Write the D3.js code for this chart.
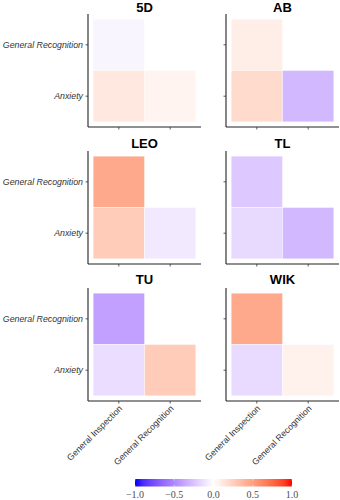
<!DOCTYPE html>
<html>
<head>
<meta charset="utf-8">
<script src="https://cdn.jsdelivr.net/npm/d3@7"></script>
<style>
  html, body { margin: 0; padding: 0; background: #fff; }
  svg { display: block; }
</style>
</head>
<body>
<div id="chart"></div>
<script>
// panels, categories and correlation values
const panels = ["5D", "AB", "LEO", "TL", "TU", "WIK"];
const xCats = ["General Inspection", "General Recognition"];
const yCats = ["General Recognition", "Anxiety"];
// cell order: [GR x GI, Anxiety x GI, Anxiety x GR]
const cellPairs = [
  ["General Inspection", "General Recognition"],
  ["General Inspection", "Anxiety"],
  ["General Recognition", "Anxiety"]
];
const values5D  = [-0.04, 0.12, 0.06];
const valuesAB  = [0.09, 0.19, -0.30];
const valuesLEO = [0.45, 0.27, -0.09];
const valuesTL  = [-0.23, -0.16, -0.30];
const valuesTU  = [-0.40, -0.14, 0.27];
const valuesWIK = [0.45, -0.15, 0.07];
const panelValues = [values5D, valuesAB, valuesLEO, valuesTL, valuesTU, valuesWIK];
const legendTicks = [-1, -0.5, 0, 0.5, 1];

const width = 340, height = 500;
const panelW = 113, panelH = 113;
const colX = [88, 226];
const rowY = [14, 151, 288];

const svg = d3.select("#chart").append("svg")
  .attr("width", width).attr("height", height)
  .attr("viewBox", [0, 0, width, height]);

const color = d3.scaleLinear()
  .domain([-1, 0, 1])
  .range(["#0000ff", "#ffffff", "#ff0000"])
  .interpolate(d3.interpolateLab);

const x = d3.scaleBand().domain(xCats).range([0, panelW]).paddingInner(0).paddingOuter(0.1);
const y = d3.scaleBand().domain(yCats).range([0, panelH]).paddingInner(0).paddingOuter(0.1);

panels.forEach((name, i) => {
  const col = i % 2, row = Math.floor(i / 2);
  const g = svg.append("g").attr("transform", `translate(${colX[col]},${rowY[row]})`);
  const cells = cellPairs.map(([cx, cy], k) => ({ cx, cy, v: panelValues[i][k] }));

  g.selectAll("rect.cell").data(cells).join("rect")
    .attr("class", "cell")
    .attr("x", d => x(d.cx))
    .attr("y", d => y(d.cy))
    .attr("width", x.bandwidth())
    .attr("height", y.bandwidth())
    .attr("fill", d => color(d.v))
    .attr("stroke", "#fff")
    .attr("stroke-width", 0.4);

  // title
  g.append("text")
    .attr("x", panelW / 2)
    .attr("y", -2.5 - row * 0.8)
    .attr("text-anchor", "middle")
    .style("font", "bold 13px 'Liberation Sans', Arial, sans-serif")
    .attr("fill", "#000")
    .text(name);

  // y axis
  const yAxis = g.append("g")
    .call(d3.axisLeft(y).tickSize(2.5).tickPadding(2.5).tickSizeOuter(0)
      .tickFormat(col === 0 ? (d => d) : () => ""));
  yAxis.select(".domain").attr("stroke", "#222").attr("stroke-width", 1.1)
    .attr("d", `M0,0V${panelH}`);
  yAxis.selectAll(".tick line").attr("stroke", "#333").attr("stroke-width", 0.8);
  yAxis.selectAll(".tick text")
    .style("font", "italic 8.8px 'Liberation Sans', Arial, sans-serif")
    .attr("fill", "#333");

  // x axis
  const xAxis = g.append("g").attr("transform", `translate(0,${panelH})`)
    .call(d3.axisBottom(x).tickSize(2.5).tickSizeOuter(0)
      .tickFormat(row === 2 ? (d => d) : () => ""));
  xAxis.select(".domain").attr("stroke", "#222").attr("stroke-width", 1.1)
    .attr("d", `M0,0H${panelW}`);
  xAxis.selectAll(".tick line").attr("stroke", "#333").attr("stroke-width", 0.8);
  xAxis.selectAll(".tick text")
    .style("font", "8.8px 'Liberation Sans', Arial, sans-serif")
    .attr("fill", "#333")
    .attr("text-anchor", "end")
    .attr("dy", null)
    .attr("y", 0)
    .attr("transform", "translate(4,8) rotate(-45)");
});

// legend colourbar
const lx = d3.scaleLinear().domain([-1, 1]).range([135, 292]);
const defs = svg.append("defs");
const grad = defs.append("linearGradient").attr("id", "lg").attr("x1", "0%").attr("x2", "100%");
d3.range(0, 1.0001, 0.05).forEach(t => {
  grad.append("stop").attr("offset", `${t * 100}%`).attr("stop-color", color(-1 + 2 * t));
});
const legY = 479, legH = 7.5;
svg.append("rect")
  .attr("x", lx(-1)).attr("y", legY)
  .attr("width", lx(1) - lx(-1)).attr("height", legH)
  .attr("fill", "url(#lg)");
const lt = svg.append("g");
lt.selectAll("line.t1").data(legendTicks).join("line")
  .attr("x1", d => lx(d)).attr("x2", d => lx(d))
  .attr("y1", legY).attr("y2", legY + 1.5)
  .attr("stroke", "#fff").attr("stroke-width", 0.6);
lt.selectAll("line.t2").data(legendTicks).join("line")
  .attr("x1", d => lx(d)).attr("x2", d => lx(d))
  .attr("y1", legY + legH - 1.5).attr("y2", legY + legH)
  .attr("stroke", "#fff").attr("stroke-width", 0.6);
lt.selectAll("text").data(legendTicks).join("text")
  .attr("x", d => lx(d)).attr("y", 498)
  .attr("text-anchor", "middle")
  .style("font", "10px 'Liberation Serif', 'Times New Roman', serif")
  .attr("fill", "#4d4d4d")
  .text(d => d3.format(".1f")(d).replace("-", "\u2212"));
</script>
</body>
</html>
